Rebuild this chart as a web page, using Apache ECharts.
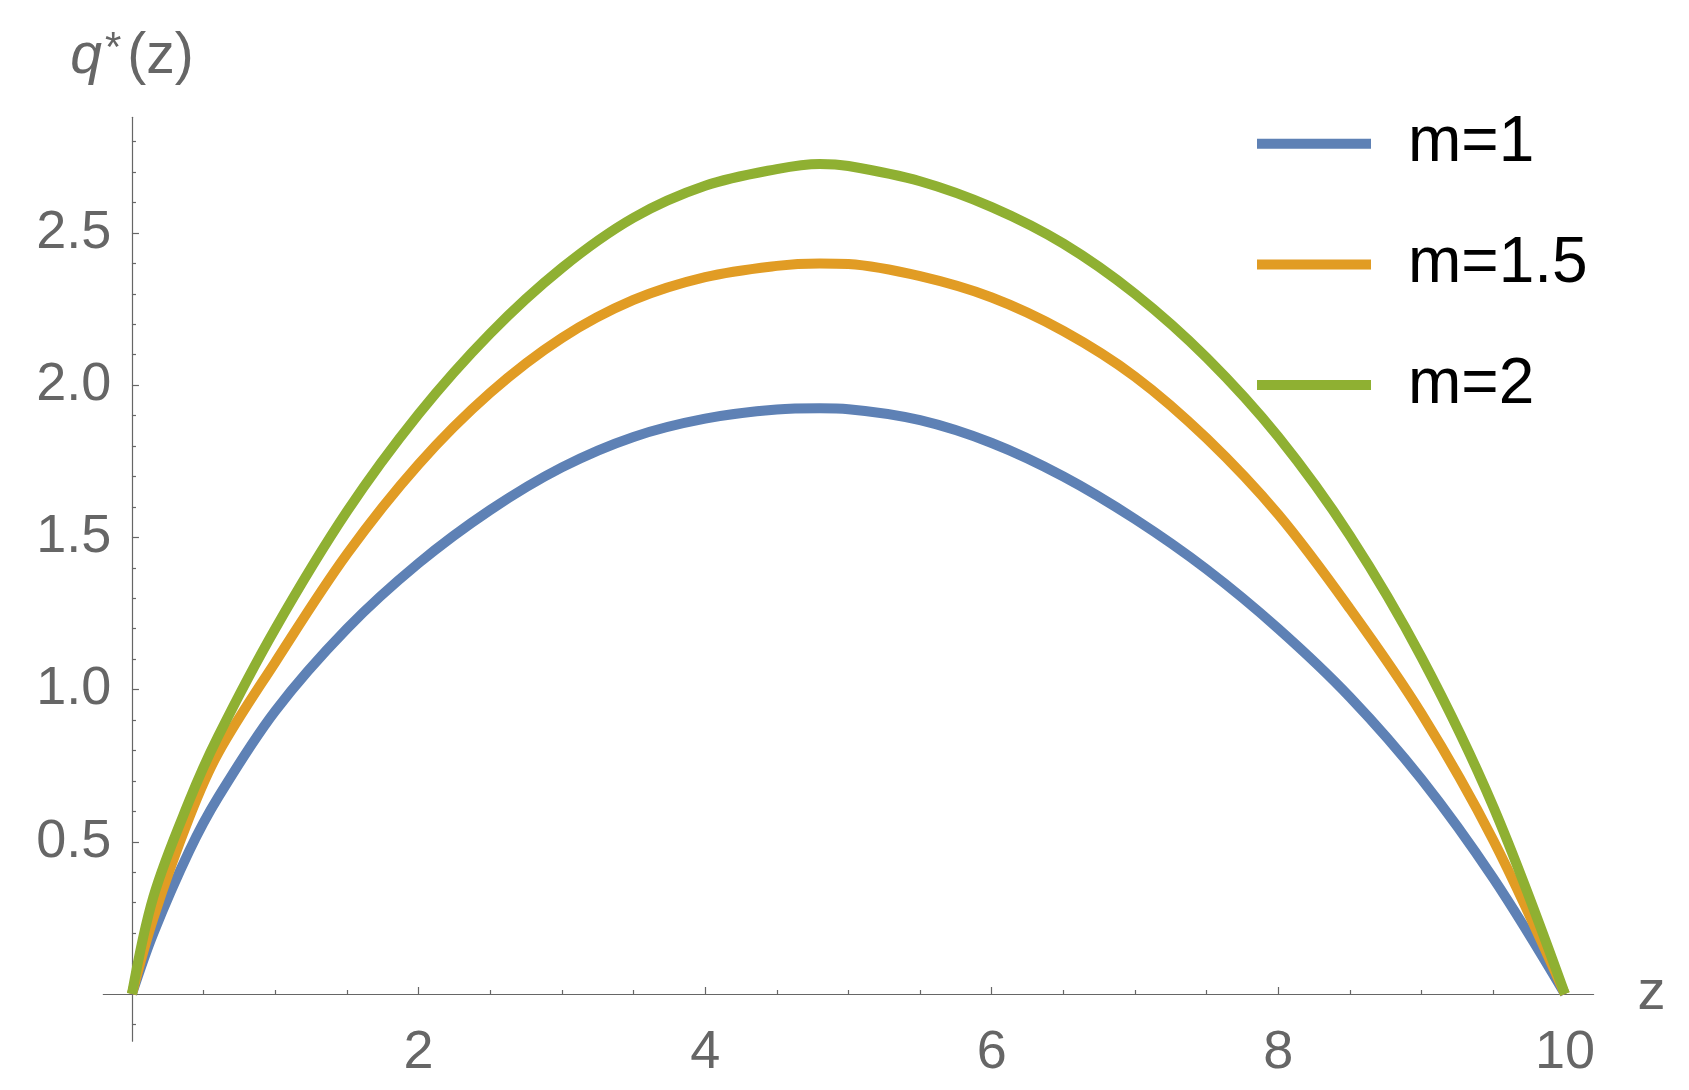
<!DOCTYPE html>
<html>
<head>
<meta charset="utf-8">
<script src="https://cdn.jsdelivr.net/npm/echarts@6/dist/echarts.min.js"></script>
<style>html,body{margin:0;padding:0;background:#fff}#c{width:1689px;height:1090px}</style>
</head>
<body>
<div id="c"></div>
<script>
// ---- data ----
const zValues   = [0, 0.15, 0.4, 0.6, 1.0, 1.5, 2.0, 2.5, 3.0, 3.5, 4.0, 4.5, 4.8, 5.0, 5.5, 6.0, 6.5, 7.0, 7.5, 8.0, 8.5, 9.0, 9.5, 10];
const m1Values  = [0, 0.20, 0.47, 0.645, 0.93, 1.20, 1.415, 1.59, 1.73, 1.83, 1.89, 1.92, 1.924, 1.921, 1.885, 1.81, 1.70, 1.56, 1.395, 1.20, 0.975, 0.705, 0.38, 0];
const m15Values = [0, 0.25, 0.58, 0.79, 1.09, 1.445, 1.74, 1.975, 2.155, 2.28, 2.355, 2.392, 2.40, 2.398, 2.358, 2.288, 2.178, 2.028, 1.825, 1.575, 1.265, 0.92, 0.505, 0];
const m2Values  = [0, 0.32, 0.635, 0.845, 1.20, 1.585, 1.905, 2.17, 2.385, 2.55, 2.655, 2.71, 2.727, 2.72, 2.67, 2.585, 2.465, 2.30, 2.09, 1.83, 1.505, 1.105, 0.615, 0];
const seriesNames = ['m=1', 'm=1.5', 'm=2'];
const xMajorTicks = [2, 4, 6, 8, 10];
const xMinorTicks = [0.5, 1, 1.5, 2.5, 3, 3.5, 4.5, 5, 5.5, 6.5, 7, 7.5, 8.5, 9, 9.5];
const yMajorTicks = [0.5, 1.0, 1.5, 2.0, 2.5];
const yMinorTicks = [-0.1, 0.1, 0.2, 0.3, 0.4, 0.6, 0.7, 0.8, 0.9, 1.1, 1.2, 1.3, 1.4, 1.6, 1.7, 1.8, 1.9, 2.1, 2.2, 2.3, 2.4, 2.6, 2.7, 2.8];

const colors = ['#5E81B5', '#E19C24', '#8FB032'];
const FONT = '"Liberation Sans", Arial, sans-serif';
const AX = '#666666';
const X_MIN = -0.2, X_MAX = 10.2, Y_MIN = -0.155, Y_MAX = 2.88;

const pair = (vals) => zValues.map((z, i) => [z, vals[i]]);
const allVals = [m1Values, m15Values, m2Values];

const chart = echarts.init(document.getElementById('c'), null, {renderer: 'canvas'});
chart.setOption({
  animation: false,
  backgroundColor: '#ffffff',
  grid: {left: 103.3, right: 95.4, top: 117.3, bottom: 48.8, containLabel: false, outerBoundsMode: 'none'},
  legend: {
    orient: 'vertical', left: 1252, top: 106.7,
    itemWidth: 114, itemHeight: 10, itemGap: 56.7,
    icon: 'rect',
    data: seriesNames,
    textStyle: {fontSize: 64, color: '#000', fontFamily: FONT, padding: [0, 0, 0, 32]}
  },
  xAxis: [
    {
      type: 'value', min: X_MIN, max: X_MAX,
      axisLine: {show: true, onZero: true, onZeroAxisIndex: 0, lineStyle: {color: AX, width: 1.2}},
      axisTick: {show: true, inside: true, length: 7, customValues: xMajorTicks, lineStyle: {color: AX, width: 1.2}},
      axisLabel: {show: true, customValues: xMajorTicks, fontSize: 54, color: AX, fontFamily: FONT, margin: -15},
      splitLine: {show: false},
      name: 'z', nameLocation: 'end', nameGap: 44,
      nameTextStyle: {fontSize: 56, color: AX, fontFamily: FONT, verticalAlign: 'middle'}
    },
    {
      type: 'value', min: X_MIN, max: X_MAX, position: 'bottom',
      axisLine: {show: false, onZero: true, onZeroAxisIndex: 1},
      axisTick: {show: true, inside: true, length: 4, customValues: xMinorTicks, lineStyle: {color: AX, width: 1.2}},
      axisLabel: {show: false},
      splitLine: {show: false}
    }
  ],
  yAxis: [
    {
      type: 'value', min: Y_MIN, max: Y_MAX,
      axisLine: {show: true, onZero: true, onZeroAxisIndex: 0, lineStyle: {color: AX, width: 1.2}},
      axisTick: {show: true, inside: true, length: 7, customValues: yMajorTicks, lineStyle: {color: AX, width: 1.2}},
      axisLabel: {show: true, customValues: yMajorTicks, fontSize: 54, color: AX, fontFamily: FONT, margin: -8,
                  formatter: (v) => Number(v).toFixed(1)},
      splitLine: {show: false},
      name: '{q|q}{s|*}{p|(z)}', nameLocation: 'end', nameGap: 32,
      nameTextStyle: {
        color: AX, fontFamily: FONT, fontSize: 57,
        rich: {
          q: {fontSize: 57, fontStyle: 'italic', color: AX, fontFamily: FONT},
          s: {fontSize: 42, color: AX, fontFamily: FONT, verticalAlign: 'top', padding: [0, 6, 0, 3]},
          p: {fontSize: 57, color: AX, fontFamily: FONT}
        }
      }
    },
    {
      type: 'value', min: Y_MIN, max: Y_MAX, position: 'left',
      axisLine: {show: false, onZero: true, onZeroAxisIndex: 1},
      axisTick: {show: true, inside: true, length: 4, customValues: yMinorTicks, lineStyle: {color: AX, width: 1.2}},
      axisLabel: {show: false},
      splitLine: {show: false}
    }
  ],
  series: seriesNames.map((name, i) => ({
    name: name, type: 'line', xAxisIndex: 0, yAxisIndex: 0,
    data: pair(allVals[i]),
    smooth: 0.35, showSymbol: false, symbol: 'none',
    color: colors[i],
    lineStyle: {color: colors[i], width: 10, cap: 'butt'},
    itemStyle: {color: colors[i]},
    z: 2 + i
  }))
});
</script>
</body>
</html>
